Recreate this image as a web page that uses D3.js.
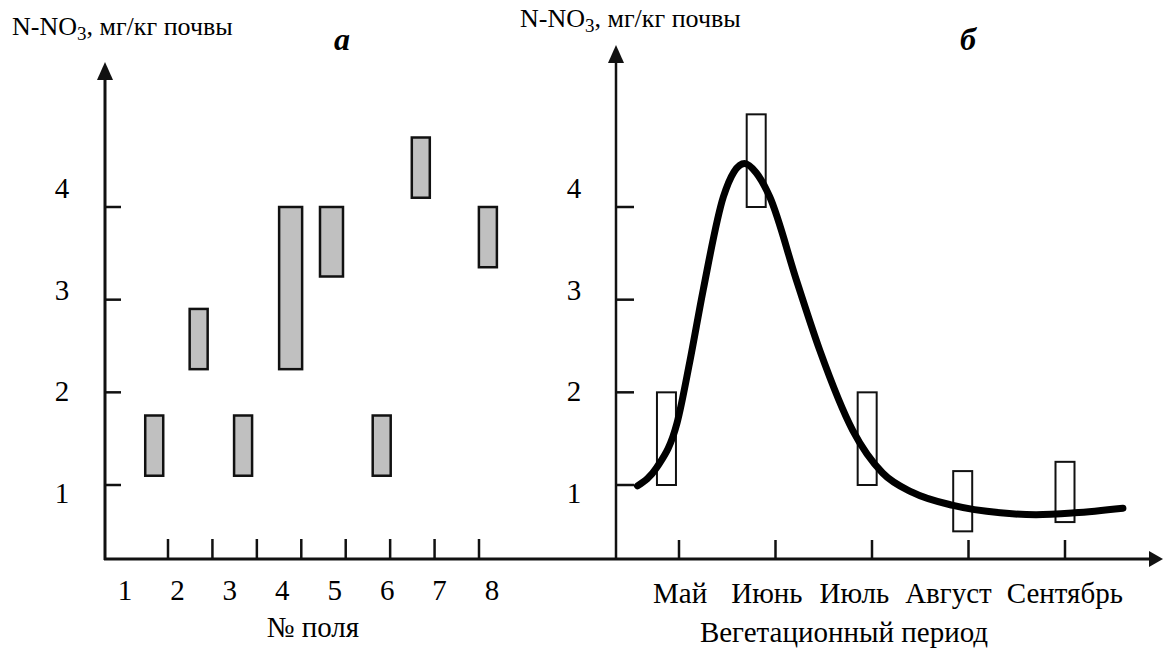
<!DOCTYPE html>
<html>
<head>
<meta charset="utf-8">
<script src="https://cdn.jsdelivr.net/npm/d3@7"></script>
<style>
  body { margin: 0; background: #fff; }
  svg { display: block; }
  text { font-family: "Liberation Serif", "DejaVu Serif", serif; fill: #000; }
</style>
</head>
<body>
<div id="chart"></div>
<script>
// ---- data ----
const yTicks = [1, 2, 3, 4];
const fieldTicks = [1, 2, 3, 4, 5, 6, 7, 8];
const fieldLabels = ['1', '2', '3', '4', '5', '6', '7', '8'];
// bar position on field axis, low / high N-NO3
const fieldPos = [0.69, 1.69, 2.69, 3.76, 4.68, 5.81, 6.69, 8.2];
const fieldLow = [1.1, 2.25, 1.1, 2.25, 3.25, 1.1, 4.1, 3.35];
const fieldHigh = [1.75, 2.9, 1.75, 4.0, 4.0, 1.75, 4.75, 4.0];

const months = ['Май', 'Июнь', 'Июль', 'Август', 'Сентябрь'];
const monthTicks = [5, 6, 7, 8, 9];
const monthPos = [4.87, 5.8, 6.95, 7.94, 9.0];
const monthLow = [1.0, 4.0, 1.0, 0.5, 0.6];
const monthHigh = [2.0, 5.0, 2.0, 1.15, 1.25];
// fitted seasonal curve (month, value)
const curveX = [4.57, 4.77, 4.98, 5.11, 5.25, 5.46, 5.57, 5.68, 5.8, 5.94, 6.22, 6.46, 6.8, 7.11, 7.42, 7.84, 8.33, 8.7, 9.1, 9.6];
const curveY = [0.99, 1.19, 1.67, 2.32, 3.1, 4.11, 4.38, 4.47, 4.37, 4.11, 3.2, 2.45, 1.59, 1.13, 0.92, 0.78, 0.7, 0.68, 0.7, 0.75];

const W = 1163, H = 663;
const svg = d3.select('#chart').append('svg').attr('width', W).attr('height', H);

// shared scales
const y = d3.scaleLinear().domain([1, 4]).range([485, 207]);
const yLabel = d3.scaleLinear().domain([1, 4]).range([493, 188]);
const baseY = 559;
const fs = '29px';

function arrowUp(x, tip) {
  svg.append('path').attr('d', `M${x},${tip} L${x - 8},${tip + 18} L${x + 8},${tip + 18} Z`).attr('fill', '#111');
}

function title(x, yb) {
  const t = svg.append('text').attr('x', x).attr('y', yb).style('font-size', '26px');
  t.append('tspan').text('N-NO');
  t.append('tspan').attr('dy', 5).style('font-size', '19px').text('3');
  t.append('tspan').attr('dy', -5).text(', мг/кг почвы');
}

// x axis line across both panels
svg.append('line').attr('x1', 104).attr('x2', 1152).attr('y1', baseY).attr('y2', baseY)
  .attr('stroke', '#111').attr('stroke-width', 3);
svg.append('path').attr('d', `M1163,${baseY} L1149,${baseY - 8} L1149,${baseY + 8} Z`).attr('fill', '#111');

// ---------- panel a ----------
const xa = d3.scaleLinear().domain([1, 8]).range([168, 479]);
const xaLabel = d3.scaleLinear().domain([1, 8]).range([125, 492]);

svg.append('line').attr('x1', 105).attr('x2', 105).attr('y1', 75).attr('y2', baseY + 1)
  .attr('stroke', '#111').attr('stroke-width', 3);
arrowUp(105, 62);

const ga = svg.append('g');
ga.selectAll('line.yt').data(yTicks).join('line')
  .attr('x1', 105).attr('x2', 121).attr('y1', d => y(d)).attr('y2', d => y(d))
  .attr('stroke', '#111').attr('stroke-width', 2.5);
ga.selectAll('text.yl').data(yTicks).join('text')
  .attr('x', 62).attr('y', d => yLabel(d)).attr('dy', '0.35em')
  .attr('text-anchor', 'middle').style('font-size', fs).text(d => d);

ga.selectAll('line.xt').data(fieldTicks).join('line')
  .attr('x1', d => xa(d)).attr('x2', d => xa(d)).attr('y1', baseY - 20).attr('y2', baseY)
  .attr('stroke', '#111').attr('stroke-width', 2.5);
ga.selectAll('text.xl').data(fieldLabels).join('text')
  .attr('x', (d, i) => xaLabel(i + 1)).attr('y', 600)
  .attr('text-anchor', 'middle').style('font-size', fs).text(d => d);

const wideBars = [false, false, false, true, true, false, false, false];
ga.selectAll('rect').data(fieldPos).join('rect')
  .attr('x', (d, i) => xa(d) - (wideBars[i] ? 11.5 : 9))
  .attr('width', (d, i) => wideBars[i] ? 23 : 18)
  .attr('y', (d, i) => y(fieldHigh[i]))
  .attr('height', (d, i) => y(fieldLow[i]) - y(fieldHigh[i]))
  .attr('fill', '#c0c0c0').attr('stroke', '#111').attr('stroke-width', 2.5);

svg.append('text').attr('x', 313).attr('y', 637).attr('text-anchor', 'middle')
  .style('font-size', fs).text('№ поля');
title(12, 35);
svg.append('text').attr('x', 342).attr('y', 50).attr('text-anchor', 'middle')
  .style('font-size', '32px').style('font-weight', 'bold').style('font-style', 'italic').text('а');

// ---------- panel б ----------
const xb = d3.scaleLinear().domain([5, 9]).range([679, 1065]);

svg.append('line').attr('x1', 616).attr('x2', 616).attr('y1', 58).attr('y2', baseY + 1)
  .attr('stroke', '#111').attr('stroke-width', 2.5);
arrowUp(616, 45);

const gb = svg.append('g');
gb.selectAll('line.yt').data(yTicks).join('line')
  .attr('x1', 616).attr('x2', 634).attr('y1', d => y(d)).attr('y2', d => y(d))
  .attr('stroke', '#111').attr('stroke-width', 2.5);
gb.selectAll('text.yl').data(yTicks).join('text')
  .attr('x', 574).attr('y', d => yLabel(d)).attr('dy', '0.35em')
  .attr('text-anchor', 'middle').style('font-size', fs).text(d => d);

gb.selectAll('line.xt').data(monthTicks).join('line')
  .attr('x1', d => xb(d)).attr('x2', d => xb(d)).attr('y1', baseY - 19).attr('y2', baseY)
  .attr('stroke', '#111').attr('stroke-width', 2.5);

gb.selectAll('rect').data(monthPos).join('rect')
  .attr('x', d => xb(d) - 9.5).attr('width', 19)
  .attr('y', (d, i) => y(monthHigh[i]))
  .attr('height', (d, i) => y(monthLow[i]) - y(monthHigh[i]))
  .attr('fill', 'none').attr('stroke', '#111').attr('stroke-width', 2);

const line = d3.line().x(d => xb(d[0])).y(d => y(d[1])).curve(d3.curveMonotoneX);
gb.append('path').datum(d3.zip(curveX, curveY)).attr('d', line)
  .attr('fill', 'none').attr('stroke', '#000').attr('stroke-width', 7).attr('stroke-linecap', 'round');

// month labels laid out as a typed row of words
let cx = 653;
const gaps = [24, 17, 16, 15];
months.forEach((m, i) => {
  const t = gb.append('text').attr('x', cx).attr('y', 603).style('font-size', fs).text(m);
  cx += t.node().getComputedTextLength() + (gaps[i] || 0);
});

svg.append('text').attr('x', 844).attr('y', 642).attr('text-anchor', 'middle')
  .style('font-size', fs).text('Вегетационный период');
title(520, 27);
svg.append('text').attr('x', 968).attr('y', 50).attr('text-anchor', 'middle')
  .style('font-size', '32px').style('font-weight', 'bold').style('font-style', 'italic').text('б');
</script>
</body>
</html>
